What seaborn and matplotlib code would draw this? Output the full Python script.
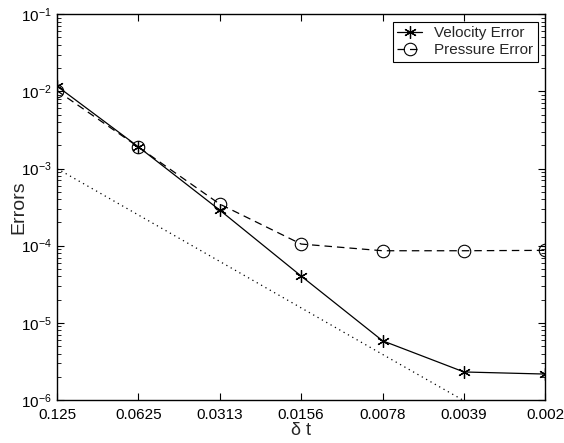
import numpy as np
import pandas as pd
import matplotlib
matplotlib.use("Agg")
import matplotlib.pyplot as plt
import seaborn as sns

dt_labels = ["0.125", "0.0625", "0.0313", "0.0156", "0.0078", "0.0039", "0.002"]
velocity_error = [1.17e-2, 1.91e-3, 2.89e-4, 4.04e-5, 5.86e-6, 2.31e-6, 2.17e-6]
pressure_error = [1.02e-2, 1.90e-3, 3.46e-4, 1.05e-4, 8.6e-5, 8.6e-5, 8.7e-5]
reference_slope = [1.0e-3, 2.5e-4, 6.25e-5, 1.5625e-5, 3.9e-6, 9.8e-7]

sns.set_style("ticks")
plt.rcParams["font.family"] = ["Liberation Sans", "DejaVu Sans"]
plt.rcParams["mathtext.default"] = "regular"

fig = plt.figure(figsize=(5.64, 4.43), dpi=100)
ax = fig.add_axes([0.101, 0.097, 0.866, 0.871])

pos = np.arange(len(dt_labels))
df = pd.DataFrame({"pos": pos, "vel": velocity_error, "pres": pressure_error})
df_ref = pd.DataFrame({"pos": pos[:len(reference_slope)], "ref": reference_slope})

sns.lineplot(data=df, x="pos", y="vel", ax=ax, color="black", linewidth=0.9,
             marker=(6, 2, 0), markersize=9, markeredgewidth=0.9,
             markeredgecolor="black", label="Velocity Error")
sns.lineplot(data=df, x="pos", y="pres", ax=ax, color="black", linewidth=0.9,
             linestyle=(0, (6, 4)), marker="o", markersize=9,
             markerfacecolor="none", markeredgecolor="black",
             markeredgewidth=0.8, label="Pressure Error")
sns.lineplot(data=df_ref, x="pos", y="ref", ax=ax, color="black", linewidth=0.9,
             linestyle=(0, (1, 3)), legend=False)

ax.set_yscale("log")
ax.set_ylim(1e-6, 1e-1)
ax.set_xlim(0, 6)
ax.set_xticks(pos)
ax.set_xticklabels(dt_labels)
ax.tick_params(which="both", direction="in", top=True, right=True,
               labelsize=11, colors="black")
ax.tick_params(axis="x", pad=5.5)
ax.tick_params(axis="y", pad=3.5)
ax.tick_params(which="major", length=5)
ax.tick_params(which="minor", length=3)
for s in ax.spines.values():
    s.set_visible(True)
    s.set_linewidth(1.0)
    s.set_color("black")

ax.set_xlabel("δ t", fontsize=13, labelpad=0)
ax.set_ylabel("Errors", fontsize=14)
ax.yaxis.set_label_coords(-0.06, 0.5)

leg = ax.legend(loc="upper right", fontsize=11, frameon=True, fancybox=False,
                edgecolor="black", framealpha=1, borderpad=0.3,
                handlelength=1.6, handletextpad=0.8, borderaxespad=0.5,
                labelspacing=0.2)
leg.get_frame().set_linewidth(0.8)

fig.canvas.draw()
for lbl in ax.get_yticklabels():
    lbl.set_verticalalignment("center_baseline")

fig.savefig("out.png", dpi=100)
